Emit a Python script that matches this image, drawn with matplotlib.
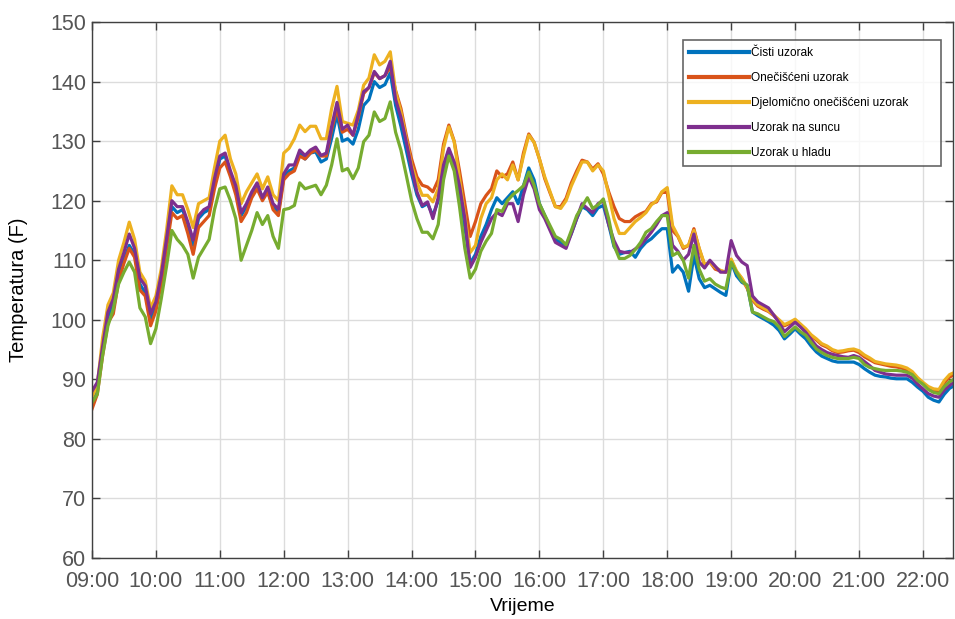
import numpy as np
import matplotlib
matplotlib.use("Agg")
import matplotlib.pyplot as plt

plt.rcParams['font.family'] = ['Liberation Sans', 'DejaVu Sans']

# vrijeme: 09:00 - 22:30, korak 5 min (sati kao decimalni broj)
vrijeme = 9 + np.arange(163) * 5 / 60.0

cisti = [
    86.5, 88.5, 95, 100.5, 102.5, 107.5, 110, 112.5, 111, 106, 104.5, 100,
    102.5, 107, 113, 119, 118, 118.5, 116, 112.5, 117, 118, 118.5, 123,
    127, 127.5, 124.5, 122, 117.5, 119, 121, 122.5, 120.5, 121.5, 119, 118,
    124, 125, 125.5, 128, 127, 128, 128.2, 126.5, 127, 130.5, 134.5, 130,
    130.4, 129.5, 132, 136, 137, 140, 139, 139.5, 141.5, 136, 132.5, 128.5,
    124.5, 121, 119, 119.5, 117.5, 120, 125.5, 128.5, 126, 121.5, 115.5, 109.5,
    111, 114, 116, 118.5, 120.5, 119.5, 120.5, 121.5, 119.5, 122.5, 125.5, 123.5,
    119.5, 117.5, 115.5, 113.5, 113, 112.5, 114.5, 117, 119, 118.5, 117.5, 118.8,
    119.2, 116, 112.3, 111, 111.3, 111.5, 110.5, 112, 113, 113.6, 114.5, 115.3,
    115.3, 108, 109.1, 108, 104.8, 110.8, 106.9, 105.4, 105.8, 105.2, 104.6, 104.1,
    109.7, 107.4, 106.3, 105.8, 101.3, 100.7, 100.2, 99.7, 99.1, 98.2, 96.8, 97.6,
    98.5, 97.6, 96.8, 95.6, 94.6, 93.9, 93.5, 93.1, 92.9, 92.9, 92.9, 92.9,
    92.5, 91.8, 91.2, 90.7, 90.5, 90.4, 90.2, 90.1, 90.1, 90.1, 89.5, 88.7,
    88, 87, 86.5, 86.2, 87.5, 88.5, 89]

oneciscen = [
    85, 87.5, 94, 99.5, 101, 106.5, 109.5, 112, 110.5, 105, 104, 99,
    101.5, 106, 112, 118, 117, 117.5, 114.5, 111, 115.5, 116.5, 117.5, 122,
    125.5, 126.5, 124, 121, 116.5, 118, 120.5, 122, 120, 121.5, 118.5, 117.5,
    123.5, 124.5, 125, 127.5, 127, 128, 128.5, 127.5, 127.5, 132, 135.5, 131.5,
    132, 131, 134, 138, 139, 141.5, 140.5, 141, 142.5, 138.5, 135.5, 131,
    127, 124, 122.6, 122.3, 121.5, 123.5, 129.5, 132.7, 130, 125, 119.5, 114,
    116.5, 119.5, 120.9, 122, 125, 124, 124.5, 126.5, 123.5, 128, 131.2, 129.8,
    127, 123.7, 121.3, 119, 119, 120.4, 123, 125, 126.8, 126.5, 125.3, 126.2,
    124.5, 121.5, 119, 117, 116.5, 116.5, 117.3, 117.8, 118.2, 119.5, 119.8, 121.4,
    121.4, 115, 114, 112, 112.5, 115.3, 111.9, 109.2, 109.7, 108.5, 108.2, 108,
    110, 108, 106.9, 105.3, 103.3, 102.3, 101.8, 101.4, 100.7, 99.8, 99, 99.4,
    99.9, 99.1, 98.3, 97.3, 96.6, 95.8, 95.4, 94.8, 94.5, 94.6, 94.8, 94.9,
    94.5, 93.8, 93.3, 92.8, 92.6, 92.4, 92.2, 92.1, 91.9, 91.6, 91, 90,
    89.3, 88.5, 88.1, 88, 89.4, 90.4, 90.8]

djelomicno = [
    87, 89, 97, 102.5, 104.5, 110, 113, 116.4, 113.5, 108, 106.5, 102,
    104, 108.5, 115, 122.5, 121, 121, 118.5, 115.5, 119.5, 120, 120.5, 125.5,
    130, 131, 127, 124.5, 119.5, 121.5, 123, 124.5, 122, 124, 121, 120,
    128, 128.8, 130.4, 132.7, 131.6, 132.5, 132.5, 130.4, 130.4, 135.5, 139.2, 133.3,
    133, 132.7, 135.2, 139.4, 140.6, 144.5, 142.8, 143.4, 145, 138.3, 134.9, 130.4,
    126, 123.1, 120.9, 120.9, 119.8, 122, 128.8, 132.4, 129.9, 123.7, 117.5, 111.3,
    112.5, 117, 119.5, 120.5, 123.5, 124.5, 123.5, 126, 123.5, 127.5, 131, 129.8,
    127, 124, 121.5, 119, 118.7, 120, 122.5, 124.5, 126.5, 126.5, 125, 126,
    125, 121, 117, 114.5, 114.5, 115.5, 116.5, 117.2, 118, 119.3, 120, 121.5,
    122.2, 115.8, 114.1, 112.2, 112.5, 115, 112, 109.3, 109.7, 108.8, 108.3, 108,
    110.2, 108.2, 107, 105.5, 103.5, 102.5, 102, 101.5, 100.8, 100, 99.2, 99.6,
    100.1, 99.3, 98.5, 97.5, 96.8, 96, 95.6, 95, 94.7, 94.8, 95, 95.1,
    94.8, 94.1, 93.6, 93, 92.8, 92.6, 92.5, 92.4, 92.2, 91.9, 91.3, 90.3,
    89.5, 88.8, 88.4, 88.3, 89.8, 90.8, 91.2]

sunce = [
    88, 89.5, 95.5, 101.3, 103.5, 108.5, 111.3, 114.4, 112, 107, 105.7, 101,
    103, 107.5, 113.6, 120, 119, 119, 116.4, 113.4, 117.5, 118.5, 119, 123.7,
    127.5, 128, 125, 122.5, 118, 119.5, 121.5, 123, 120.5, 122.3, 119.5, 118.6,
    124.5, 126, 126, 128.5, 127.6, 128.5, 129, 127.6, 128, 132.5, 136.5, 132,
    132.7, 131, 134.5, 138.3, 139, 141.7, 140.5, 141, 143.4, 137, 134, 129.9,
    125.5, 121.5, 119.2, 119.8, 117, 120.5, 126, 128.8, 126.5, 122.5, 117, 108.8,
    110.5, 113, 115, 117, 118, 117.5, 119.5, 119.5, 116.5, 121, 124, 122,
    118.5, 117, 115, 113, 112.5, 112, 114.5, 117, 119.5, 118.7, 118, 119.5,
    120, 116, 113.3, 111.5, 111.3, 111.3, 111.9, 112.5, 113.6, 114.7, 116, 117.5,
    118, 112.5, 111.5, 110, 111, 114.4, 109.7, 108.7, 110, 109, 108, 108,
    113.3, 110.8, 109.7, 109.1, 104, 103, 102.5, 102, 100.8, 99.5, 98, 98.8,
    99.6, 98.8, 97.9, 96.7, 95.6, 95, 94.5, 94.2, 94, 93.8, 93.7, 94,
    93.7, 93, 92.3, 91.5, 91.2, 90.9, 90.8, 90.7, 90.7, 90.7, 90.2, 89.2,
    88.4, 87.6, 87.2, 87, 88.2, 89, 89.6]

hlad = [
    86.1, 87.5, 94, 99, 101.8, 106, 108, 109.7, 108, 102, 100.5, 96,
    98.5, 103.5, 109, 115, 113.5, 112.5, 111, 107, 110.5, 112, 113.5, 118.5,
    122, 122.3, 120, 117, 110, 112.5, 115, 118, 116, 117.5, 114, 112,
    118.5, 118.7, 119.2, 123, 122, 122.3, 122.6, 121, 122.6, 126, 130.4, 125,
    125.4, 123.7, 125.5, 129.9, 131, 134.9, 133.3, 133.8, 136.6, 131.5, 128.5, 124.3,
    120, 117, 114.7, 114.7, 113.6, 116, 123.5, 127.5, 125, 119, 112, 107,
    108.5, 111.5, 113.2, 114.5, 118.5, 118.2, 120, 121, 121.7, 122.5, 124.8, 122.6,
    119.5, 117.6, 115.8, 114, 113.5, 112.6, 115, 117.5, 119, 120.5, 118.7, 119.3,
    120.3, 117, 112.5, 110.3, 110.3, 110.8, 111.8, 113, 114.7, 115.3, 116.5, 117.5,
    117.5, 110.8, 111.3, 110, 107, 112.5, 108.5, 106.5, 106.9, 106, 105.5, 105.2,
    109.7, 108, 106.5, 105.8, 101.3, 101, 100.5, 100, 99.7, 98.8, 97.2, 98,
    98.8, 98, 97.4, 96.2, 95.1, 94.5, 94, 93.7, 93.5, 93.5, 93.5, 93.7,
    93.5, 92.5, 92, 91.8, 91.6, 91.5, 91.5, 91.5, 91.4, 91.2, 90.8, 89.8,
    89.2, 88.3, 87.8, 87.6, 88.8, 89.6, 90.1]

nazivi = ["Čisti uzorak", "Onečišćeni uzorak", "Djelomično onečišćeni uzorak",
          "Uzorak na suncu", "Uzorak u hladu"]
boje = ["#0072BD", "#D95319", "#EDB120", "#7E2F8E", "#77AC30"]
sati = list(range(9, 23))

fig = plt.figure(figsize=(9.55, 6.19), dpi=100)
ax = fig.add_axes([0.0963, 0.0985, 0.9016, 0.8659])

for serija, naziv, boja in zip([cisti, oneciscen, djelomicno, sunce, hlad], nazivi, boje):
    ax.plot(vrijeme, serija, color=boja, lw=2.3, label=naziv, solid_joinstyle='round')

ax.set_xlim(9, 22.47)
ax.set_ylim(60, 150)
ax.set_xticks(sati)
ax.set_xticklabels([f"{h:02d}:00" for h in sati])
ax.set_yticks(range(60, 151, 10))
ax.grid(True, color='#dcdcdc', lw=1)
ax.set_axisbelow(True)
ax.tick_params(direction='in', length=6, width=1, top=True, right=True,
               labelsize=15.5, labelcolor='#555555', color='#404040')
ax.tick_params(axis='x', pad=9)
ax.tick_params(axis='y', pad=4)
for s in ax.spines.values():
    s.set_color('#404040')
    s.set_linewidth(1)

ax.set_xlabel("Vrijeme", fontsize=14, labelpad=5)
ax.set_ylabel("Temperatura (F)", fontsize=14.5, labelpad=16)

# legenda rastegnuta na sirinu okvira kao u originalu
leg = ax.legend(loc='upper left', bbox_to_anchor=(0.686, 0.0, 0.2997, 0.966),
                mode='expand', borderaxespad=0,
                fontsize=8.6, handlelength=5.0, handletextpad=0.15, labelspacing=1.1,
                frameon=True, fancybox=False, edgecolor='#404040', borderpad=0.55)
leg.get_frame().set_linewidth(1.2)
for ln in leg.get_lines():
    ln.set_linewidth(3)

fig.savefig("out.png", dpi=100)
